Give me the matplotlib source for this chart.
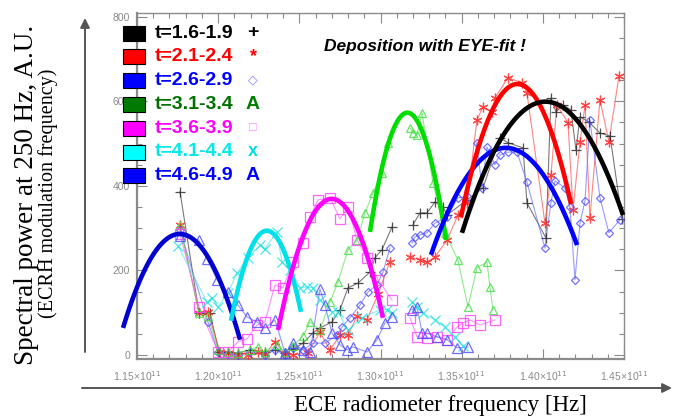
import numpy as np
import matplotlib
matplotlib.use("Agg")
import matplotlib.pyplot as plt
from matplotlib.patches import Rectangle, FancyArrowPatch
from matplotlib.ticker import MultipleLocator, FuncFormatter

nan = np.nan

# ECE frequency in units of 1e11 Hz, spectral power in A.U. (nan = gap in channels)
f_16 = [1.1765, 1.1882, 1.1950, 1.2005, 1.2061, 1.2122, 1.2196, 1.2288, 1.2350, 1.2412, 1.2461,
        1.2523, 1.2584, 1.2627, 1.2701, 1.2750, 1.2800, 1.2861, 1.2935, 1.2966, 1.3009, 1.3071, nan,
        1.3200, 1.3243, 1.3286, 1.3336, 1.3385, 1.3410, 1.3533, 1.3631, 1.3736, 1.3785, 1.3878, 1.3902,
        1.4019, 1.4050, 1.4081, 1.4124, 1.4173, 1.4204, 1.4229, 1.4284, 1.4352, 1.4414, 1.4488]
v_16 = [386, 99, 99, 7, 7, 5, 12, 7, 12, 5, 14,
        28, 52, 64, 78, 107, 159, 170, 196, 230, 249, 303, nan,
        308, 336, 336, 362, 350, 331, 367, 395, 514, 502, 490, 360,
        277, 608, 575, 592, 580, 485, 563, 551, 525, 518, 322]

f_21 = [1.1765, 1.1882, 1.1937, 1.2011, 1.2061, 1.2122, 1.2184, 1.2245, 1.2288, 1.2350, 1.2412,
        1.2461, 1.2553, 1.2627, 1.2689, 1.2750, 1.2800, 1.2855, 1.2917, 1.2985, 1.3058, nan,
        1.3182, 1.3243, 1.3286, 1.3336, 1.3410, 1.3477, 1.3533, 1.3594, 1.3631, 1.3687, 1.3705,
        1.3785, 1.3872, 1.3902, 1.4013, 1.4050, 1.4087, 1.4155, 1.4186, 1.4229, 1.4260, 1.4290,
        1.4352, 1.4407, 1.4469]
v_21 = [308, 99, 102, 7, 5, 0, 0, 7, 2, 31, 2,
        0, 5, 54, 12, 47, 47, 92, 83, 144, 220, nan,
        232, 225, 220, 232, 272, 331, 360, 556, 587, 575, 608,
        656, 644, 620, 312, 426, 592, 549, 343, 504, 592, 324,
        604, 504, 660]

f_26 = [1.1765, 1.1937, 1.1999, 1.2061, 1.2122, 1.2196, 1.2288, 1.2350, 1.2412, 1.2461, 1.2523,
        1.2584, 1.2658, 1.2732, 1.2763, 1.2812, 1.2874, 1.2923, 1.2978, 1.3015, 1.3058, nan,
        1.3194, 1.3212, 1.3243, 1.3286, 1.3336, 1.3410, 1.3477, 1.3539, 1.3594, 1.3625, 1.3656,
        1.3705, 1.3736, 1.3785, 1.3841, 1.3902, 1.4013, 1.4050, 1.4075, 1.4136, 1.4167, 1.4198,
        1.4229, 1.4260, 1.4290, 1.4352, 1.4407, 1.4475]
v_26 = [296, 78, 7, 2, 0, 7, 0, 12, 0, 17, 12,
        28, 28, 47, 66, 88, 118, 149, 166, 196, 253, nan,
        265, 279, 284, 289, 312, 327, 372, 374, 502, 395, 492,
        450, 473, 480, 480, 409, 253, 360, 412, 395, 350, 178,
        312, 365, 556, 372, 289, 320]

f_31 = [1.1765, 1.1882, 1.1937, 1.1999, 1.2061, 1.2122, 1.2196, 1.2245, 1.2288, 1.2362, 1.2412,
        1.2461, 1.2523, 1.2566, 1.2627, 1.2689, 1.2738, 1.2800, 1.2855, 1.2904, 1.2954, 1.3009,
        1.3046, nan, 1.3182, 1.3200, 1.3225, 1.3256, 1.3323, 1.3397, 1.3477, 1.3539, 1.3594,
        1.3656, 1.3674, 1.3693]
v_31 = [308, 99, 92, 12, 7, 5, 12, 19, 7, 24, 7,
        21, 45, 78, 59, 125, 173, 249, 272, 336, 383, 431,
        502, nan, 537, 525, 521, 573, 407, 289, 225, 114, 206,
        220, 161, 107]

f_36 = [1.1765, 1.1882, 1.1999, 1.2061, 1.2122, 1.2178, 1.2239, 1.2288, 1.2350, 1.2399, 1.2461,
        1.2523, 1.2566, 1.2615, 1.2689, 1.2750, 1.2800, 1.2855, 1.2917, 1.2985, 1.3071, nan,
        1.3182, 1.3225, 1.3286, 1.3348, 1.3410, 1.3471, 1.3508, 1.3551, 1.3613, 1.3705]
v_36 = [286, 114, 7, 7, 31, 38, 71, 78, 166, 159, 220,
        265, 327, 367, 372, 322, 350, 272, 230, 178, 130, nan,
        88, 43, 40, 43, 36, 66, 76, 83, 71, 83]

f_41 = [1.1753, 1.1931, 1.1962, 1.1999, 1.2061, 1.2116, 1.2184, 1.2258, 1.2288, 1.2362, 1.2393,
        1.2442, 1.2504, 1.2547, 1.2584, 1.2627, 1.2701, 1.2738, 1.2800, 1.2886, 1.2997, 1.3040,
        1.3071, nan, 1.3194, 1.3225, 1.3262, 1.3336, 1.3397, 1.3459, 1.3508]
v_41 = [258, 125, 135, 114, 147, 194, 230, 260, 251, 291, 220,
        201, 159, 161, 159, 130, 102, 102, 59, 88, 107, 107,
        99, nan, 125, 114, 99, 83, 66, 43, 21]

f_46 = [1.1765, 1.1882, 1.1931, 1.1993, 1.2061, 1.2122, 1.2178, 1.2239, 1.2288, 1.2350, 1.2412,
        1.2461, 1.2523, 1.2566, 1.2627, 1.2658, 1.2701, 1.2750, 1.2794, 1.2831, 1.2917, 1.2978,
        1.3028, 1.3071, nan, 1.3194, 1.3225, 1.3256, 1.3286, 1.3348, 1.3410, 1.3471, 1.3539]
v_46 = [282, 272, 227, 178, 149, 118, 90, 78, 64, 83, 5,
        28, 12, 7, 156, 118, 52, 24, 12, 19, 7, 36,
        76, 90, nan, 107, 114, 52, 52, 43, 36, 17, 19]

# EYE-fit curves: (left end, peak, right end)
fit_blue_l = [(1.1414, 64), (1.1777, 286), (1.2135, 36)]
fit_cyan = [(1.2079, 81), (1.2301, 294), (1.2510, 102)]
fit_magenta = [(1.2369, 59), (1.2689, 369), (1.3015, 88)]
fit_green = [(1.2935, 291), (1.3170, 573), (1.3404, 272)]
fit_blue_r = [(1.3311, 237), (1.3767, 490), (1.4211, 260)]
fit_red = [(1.3496, 327), (1.3841, 641), (1.4174, 357)]
fit_black = [(1.3502, 289), (1.4001, 599), (1.4494, 331)]

legend_labels = ["t=1.6-1.9", "t=2.1-2.4", "t=2.6-2.9", "t=3.1-3.4",
                 "t=3.6-3.9", "t=4.1-4.4", "t=4.6-4.9"]
legend_symbols = ["+", "*", "\u25c7", "A", "\u25a1", "x", "A"]

W, H = 673, 416
fig = plt.figure(figsize=(W / 100, H / 100), dpi=100)


def fx(x):
    return x / W


def fy(y):
    return 1 - y / H


ax = fig.add_axes([fx(137), fy(359), (624 - 137) / W, (359 - 13) / H])
ax.set_xlim(1.15, 1.45)
ax.set_ylim(-9.5, 809)

series = [
    (f_16, v_16, "#202020", "+", 7, "#404040"),
    (f_21, v_21, "#ff2020", (6, 2, 0), 7, "#ff5050"),
    (f_26, v_26, "#5050ff", "D", 4.5, "#7070ff"),
    (f_31, v_31, "#40e040", "^", 6, "#60e060"),
    (f_36, v_36, "#ff40ff", "s", 6.5, "#ff60ff"),
    (f_41, v_41, "#20e0e0", "x", 6.5, "#50e8e8"),
    (f_46, v_46, "#4a4aff", "^", 6.5, "#6a6aff"),
]
for f, v, mc, mk, ms, lc in series:
    filled = mk in ("+", "x") or isinstance(mk, tuple)
    ax.plot(f, v, color=lc, lw=0.8, alpha=0.7, zorder=2)
    ax.plot(f, v, ls="none", marker=mk, ms=ms, mew=0.9,
            mec=mc, mfc=mc if filled else "none", alpha=0.8, zorder=3)

fits = [
    (fit_blue_l, "#0000d0"),
    (fit_cyan, "#00e0e8"),
    (fit_magenta, "#ff00ff"),
    (fit_green, "#00dd00"),
    (fit_blue_r, "#0000ff"),
    (fit_red, "#ff0000"),
    (fit_black, "#000000"),
]
for pts, col in fits:
    px = [p[0] for p in pts]
    py = [p[1] for p in pts]
    coef = np.polyfit(px, py, 2)
    xs = np.linspace(px[0], px[-1], 120)
    ax.plot(xs, np.polyval(coef, xs), color=col, lw=3.3, solid_capstyle="butt",
            clip_on=False, zorder=5)

# frame and ticks
for s in ax.spines.values():
    s.set_color("#8a8a8a")
    s.set_linewidth(1.0)
ax.spines["left"].set_linewidth(1.6)
ax.spines["bottom"].set_linewidth(1.6)
ax.xaxis.set_major_locator(MultipleLocator(0.05))
ax.xaxis.set_minor_locator(MultipleLocator(0.01))
ax.yaxis.set_major_locator(MultipleLocator(200))
ax.yaxis.set_minor_locator(MultipleLocator(50))
ax.tick_params(which="both", direction="in", top=True, right=True, color="#8a8a8a",
               labelcolor="#8a8a8a", labelsize=7.5)
ax.tick_params(which="major", length=7, width=0.8)
ax.tick_params(which="minor", length=3.5, width=0.8)
ax.tick_params(axis="x", pad=7)
ax.tick_params(axis="y", pad=5)
ax.xaxis.set_major_formatter(FuncFormatter(lambda x, p: "%.2f\u00d710$^{11}$" % x))
ax.yaxis.set_major_formatter(FuncFormatter(lambda y, p: "%d" % y))
for lab in ax.get_xticklabels() + ax.get_yticklabels():
    lab.set_family("Liberation Sans")

# outer arrows
fig.add_artist(FancyArrowPatch((fx(85), fy(352)), (fx(85), fy(18)), transform=fig.transFigure,
                               arrowstyle="-|>", mutation_scale=14, color="#555555", lw=1.4,
                               shrinkA=0, shrinkB=0))
fig.add_artist(FancyArrowPatch((fx(82), fy(388)), (fx(672), fy(388)), transform=fig.transFigure,
                               arrowstyle="-|>", mutation_scale=14, color="#555555", lw=1.4,
                               shrinkA=0, shrinkB=0))

# axis titles
fig.text(fx(27), fy(195), "Spectral power at 250 Hz, A.U.", rotation=90, ha="center", va="center",
         family="Liberation Serif", fontsize=19.5)
fig.text(fx(48), fy(193), "(ECRH modulation frequency)", rotation=90, ha="center", va="center",
         family="Liberation Serif", fontsize=14.5)
fig.text(fx(440), fy(406), "ECE radiometer frequency [Hz]", ha="center", va="center",
         family="Liberation Serif", fontsize=16.5)
fig.text(fx(425), fy(47), "Deposition with EYE-fit !", ha="center", va="center",
         family="Liberation Sans", fontweight="bold", style="italic", fontsize=12.5)

# legend
box_cols = ["#000000", "#ff0000", "#0000ff", "#007a00", "#ff00ff", "#00ffff", "#0000ff"]
txt_cols = ["#000000", "#ff0000", "#0000ff", "#007000", "#ff00ff", "#00e8e8", "#0000ff"]
sym_cols = ["#000000", "#ff0000", "#8080ff", "#008000", "#ff80ff", "#00e0e0", "#0000ff"]
sym_size = [14, 13, 9, 14, 9, 13, 14]
for i, lab in enumerate(legend_labels):
    yc = 33 + i * 23.8
    fig.add_artist(Rectangle((fx(123), fy(yc + 7.5)), 22 / W, 15 / H, transform=fig.transFigure,
                             facecolor=box_cols[i], edgecolor="black", lw=0.8))
    fig.text(fx(155), fy(yc), lab, ha="left", va="center", color=txt_cols[i],
             family="Liberation Sans", fontweight="bold", fontsize=14)
    fig.text(fx(253), fy(yc), legend_symbols[i], ha="center", va="center", color=sym_cols[i],
             family=["Liberation Sans", "DejaVu Sans"], fontweight="bold", fontsize=sym_size[i])

fig.savefig("out.png", dpi=100)
